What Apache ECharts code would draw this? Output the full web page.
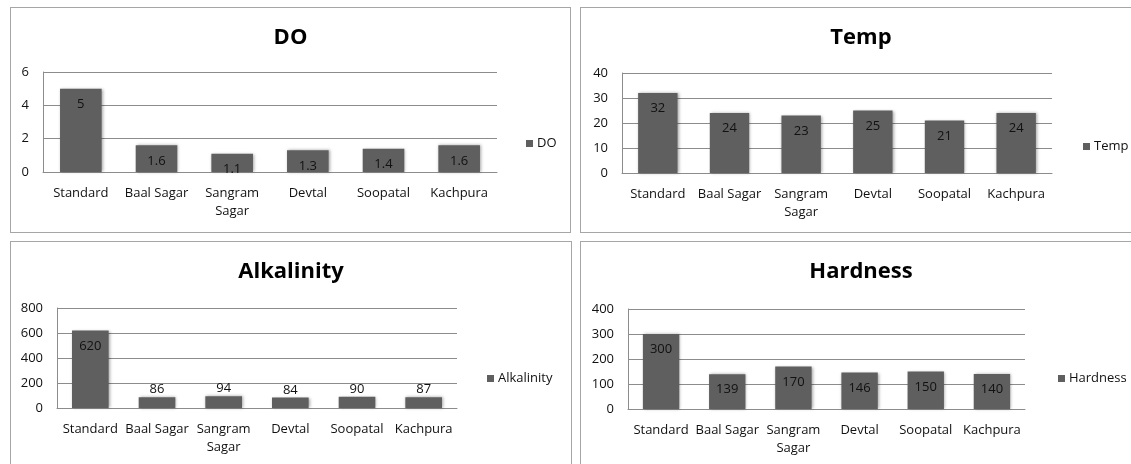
<!DOCTYPE html>
<html>
<head>
<meta charset="utf-8">
<script src="https://cdn.jsdelivr.net/npm/echarts@6/dist/echarts.min.js"></script>
<style>
  html, body { margin: 0; padding: 0; background: #fff; width: 1131px; height: 464px; overflow: hidden; }
  .panel { position: absolute; border: 1px solid #a6a6a6; background: #fff; }
</style>
</head>
<body>
<div id="doBox" class="panel" style="left:10px;top:7px;width:559px;height:224px;"></div>
<div id="tempBox" class="panel" style="left:580px;top:7px;width:560px;height:224px;"></div>
<div id="alkBox" class="panel" style="left:10px;top:241px;width:560px;height:240px;"></div>
<div id="hardBox" class="panel" style="left:580px;top:241px;width:560px;height:240px;"></div>
<script>
// 站点（类目）
var sites = ['Standard', 'Baal Sagar', 'Sangram Sagar', 'Devtal', 'Soopatal', 'Kachpura'];

// 各指标数值
var doValues = [5, 1.6, 1.1, 1.3, 1.4, 1.6];
var tempValues = [32, 24, 23, 25, 21, 24];
var alkValues = [620, 86, 94, 84, 90, 87];
var hardValues = [300, 139, 170, 146, 150, 140];

// y轴刻度
var doTicks = [0, 2, 4, 6];
var tempTicks = [0, 10, 20, 30, 40];
var alkTicks = [0, 200, 400, 600, 800];
var hardTicks = [0, 100, 200, 300, 400];

var FONT = '"Open Sans", "DejaVu Sans", sans-serif';

//*******************************    通用柱状图   *******************************
function drawChart(id, name, values, ticks, box) {
    var chart = echarts.init(document.getElementById(id));
    var yMax = ticks[ticks.length - 1];
    var step = ticks[1] - ticks[0];

    var data = values.map(function (v) {
        // 柱子太矮的时候标签放到柱顶上面
        var small = v / yMax < 0.15;
        return {
            value: v,
            label: small && box.outside
                ? { position: 'top', distance: 1 }
                : { position: 'insideTop', distance: small ? 2 : 9 }
        };
    });

    chart.setOption({
        animation: false,
        textStyle: { fontFamily: FONT },
        title: {
            text: name,
            left: 'center',
            top: 14,
            textStyle: { fontFamily: FONT, fontSize: 22, fontWeight: 'bold', color: '#000' }
        },
        legend: {
            data: [name],
            left: box.legendX,
            top: box.legendY,
            icon: 'rect',
            itemWidth: 7,
            itemHeight: 7,
            itemGap: 4,
            textStyle: { fontFamily: FONT, fontSize: 13, color: '#111', padding: [0, 0, 0, -1] },
            itemStyle: { color: '#5f5f5f' }
        },
        grid: { left: box.left, top: box.top, width: box.width, height: 100, containLabel: false },
        xAxis: {
            type: 'category',
            data: sites,
            axisLine: { lineStyle: { color: '#8c8c8c', width: 1 } },
            axisTick: { show: false },
            axisLabel: {
                interval: 0,
                margin: 12,
                fontFamily: FONT,
                fontSize: 13,
                lineHeight: 18,
                color: '#111',
                formatter: function (s) {
                    return s.length > 11 ? s.replace(' ', '\n') : s;
                }
            }
        },
        yAxis: {
            type: 'value',
            min: 0,
            max: yMax,
            interval: step,
            axisLine: { show: true, lineStyle: { color: '#8c8c8c', width: 1 } },
            axisTick: { show: false },
            splitLine: { lineStyle: { color: '#8c8c8c', width: 1 } },
            axisLabel: { margin: 14, fontFamily: FONT, fontSize: 13, color: '#111' }
        },
        series: [{
            name: name,
            type: 'bar',
            barWidth: '55%',
            data: data,
            itemStyle: {
                color: '#5f5f5f',
                shadowBlur: 3,
                shadowColor: 'rgba(0,0,0,0.35)',
                shadowOffsetX: 1,
                shadowOffsetY: 0
            },
            label: {
                show: true,
                fontFamily: FONT,
                fontSize: 13,
                color: '#111'
            }
        }]
    });
    return chart;
}

var doChart = drawChart('doBox', 'DO', doValues, doTicks,
    { left: 32, top: 64, width: 454, legendX: 510, legendY: 124, outside: false });
var tempChart = drawChart('tempBox', 'Temp', tempValues, tempTicks,
    { left: 41, top: 65, width: 430, legendX: 497, legendY: 127, outside: false });
var alkChart = drawChart('alkBox', 'Alkalinity', alkValues, alkTicks,
    { left: 46, top: 66, width: 400, legendX: 471, legendY: 125, outside: true });
var hardChart = drawChart('hardBox', 'Hardness', hardValues, hardTicks,
    { left: 47, top: 67, width: 397, legendX: 472, legendY: 125, outside: false });
</script>
</body>
</html>
